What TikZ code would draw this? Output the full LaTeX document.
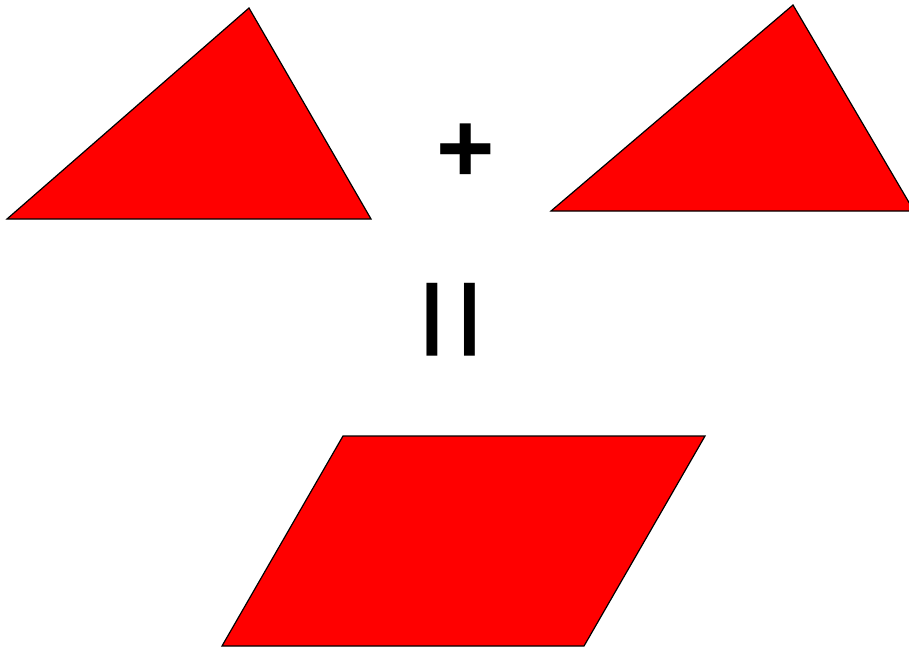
\documentclass[tikz,border=0pt]{standalone}
\usepackage{fontspec}
\setmainfont{Liberation Sans}
\begin{document}
\begin{tikzpicture}[x=1pt,y=-1pt,
  redpoly/.style={fill=red,draw=black,line width=1.2pt,line join=miter},
  sym/.style={inner sep=0pt,font=\fontsize{100}{100}\selectfont\bfseries}]
\useasboundingbox (0,0) rectangle (909,646);
\begin{scope}
\clip (0,0) rectangle (909,646);
\draw[redpoly] (7,219) -- (249,8) -- (371,219) -- cycle;
\draw[redpoly] (551,211) -- (793,5) -- (914,211) -- cycle;
\draw[redpoly] (343,436) -- (705,436) -- (584,646) -- (222,646) -- cycle;
\end{scope}
\node[sym] (plus) at (466,153) {+};
\node[sym,rotate=90,font=\fontsize{150}{150}\selectfont] (eq) at (464,319.5) {=};
\end{tikzpicture}
\end{document}
